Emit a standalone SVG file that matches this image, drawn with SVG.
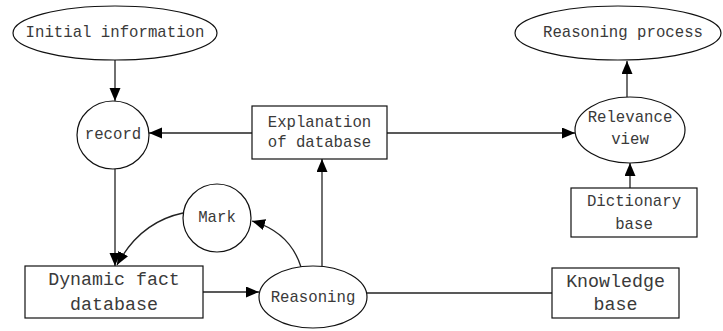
<svg xmlns="http://www.w3.org/2000/svg" width="723" height="331" viewBox="0 0 723 331">
  <style>
    .shape { fill: #fff; stroke: #111; stroke-width: 1.2; }
    .edge { fill: none; stroke: #222; stroke-width: 1.3; }
    text { font-family: "Liberation Mono", "DejaVu Sans Mono", monospace; fill: #3a3a3a; text-anchor: middle; dominant-baseline: central; }
    .s { font-size: 15.7px; }
    .l { font-size: 18.3px; }
  </style>
  <defs>
    <marker id="arrow" markerUnits="userSpaceOnUse" markerWidth="14" markerHeight="12" refX="13" refY="5.5" orient="auto">
      <path d="M0,0 L13,5.5 L0,11 z" fill="#000"/>
    </marker>
  </defs>

  <!-- connectors -->
  <g id="connectors">
    <path class="edge" d="M115,60 L115,101" marker-end="url(#arrow)"/>
    <path class="edge" d="M252,133 L149,133" marker-end="url(#arrow)"/>
    <path class="edge" d="M387,133 L575,133" marker-end="url(#arrow)"/>
    <path class="edge" d="M115,169 L115,266" marker-end="url(#arrow)"/>
    <path class="edge" d="M183,213 Q140,222 117,265" marker-end="url(#arrow)"/>
    <path class="edge" d="M203,292 L259,292" marker-end="url(#arrow)"/>
    <path class="edge" d="M301,267 Q290,232 252,221" marker-end="url(#arrow)"/>
    <path class="edge" d="M322,267 L322,159" marker-end="url(#arrow)"/>
    <path class="edge" d="M367,293 L552,293"/>
    <path class="edge" d="M627,97 L627,61" marker-end="url(#arrow)"/>
    <path class="edge" d="M630,188 L630,163" marker-end="url(#arrow)"/>
  </g>

  <g id="initial-information">
    <ellipse class="shape" cx="115" cy="33" rx="102" ry="27"/>
    <text class="s" x="115" y="33">Initial information</text>
  </g>

  <g id="record">
    <ellipse class="shape" cx="113" cy="135" rx="36" ry="34"/>
    <text class="s" x="113" y="135">record</text>
  </g>

  <g id="explanation-of-database">
    <rect class="shape" x="252" y="106" width="135" height="53"/>
    <text class="s" x="319.5" y="123">Explanation</text>
    <text class="s" x="319.5" y="143">of database</text>
  </g>

  <g id="mark">
    <circle class="shape" cx="217" cy="218" r="34"/>
    <text class="s" x="217" y="218">Mark</text>
  </g>

  <g id="dynamic-fact-database">
    <rect class="shape" x="25" y="266" width="178" height="52"/>
    <text class="l" x="114" y="280">Dynamic fact</text>
    <text class="l" x="114" y="305">database</text>
  </g>

  <g id="reasoning">
    <ellipse class="shape" cx="313" cy="297" rx="54" ry="31"/>
    <text class="s" x="313" y="298">Reasoning</text>
  </g>

  <g id="knowledge-base">
    <rect class="shape" x="552" y="268" width="127" height="50"/>
    <text class="l" x="615.5" y="282">Knowledge</text>
    <text class="l" x="615.5" y="305">base</text>
  </g>

  <g id="reasoning-process">
    <ellipse class="shape" cx="618" cy="33" rx="103" ry="27"/>
    <text class="s" x="623" y="33">Reasoning process</text>
  </g>

  <g id="relevance-view">
    <ellipse class="shape" cx="630" cy="130" rx="55" ry="33"/>
    <text class="s" x="630" y="118">Relevance</text>
    <text class="s" x="630" y="140">view</text>
  </g>

  <g id="dictionary-base">
    <rect class="shape" x="571" y="188" width="126" height="49"/>
    <text class="s" x="634" y="202">Dictionary</text>
    <text class="s" x="634" y="225">base</text>
  </g>
</svg>
